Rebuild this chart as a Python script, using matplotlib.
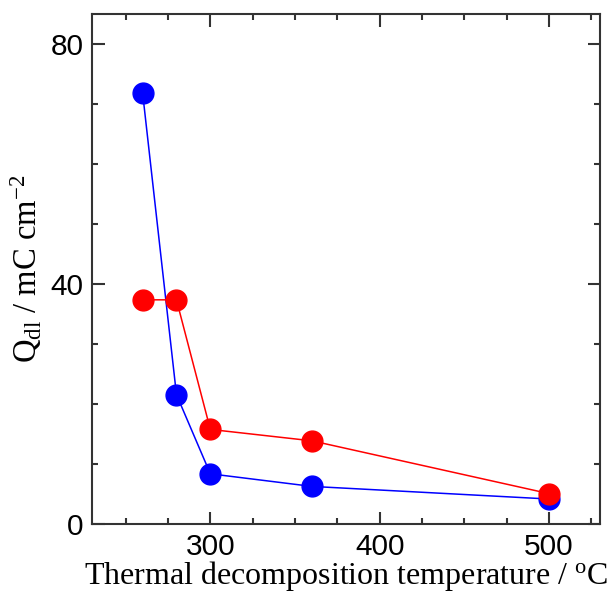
import matplotlib
matplotlib.use("Agg")
import matplotlib.pyplot as plt
from matplotlib.ticker import MultipleLocator

# data
temps = [260, 280, 300, 360, 500]
q_blue = [71.9, 21.6, 8.4, 6.3, 4.2]
q_red = [37.4, 37.4, 15.8, 13.9, 5.1]

plt.rcParams['mathtext.fontset'] = 'custom'
plt.rcParams['mathtext.rm'] = 'Liberation Serif'
plt.rcParams['mathtext.it'] = 'Liberation Serif:italic'

fig = plt.figure(figsize=(6.12, 5.93), dpi=100)
ax = fig.add_axes([0.150, 0.116, 0.830, 0.860])

ax.plot(temps, q_blue, '-o', color='#0000ff', lw=1.1, ms=15, zorder=3)
ax.plot(temps, q_red, '-o', color='#ff0000', lw=1.1, ms=15, zorder=4)

ax.set_xlim(230, 530)
ax.set_ylim(0, 85)
ax.xaxis.set_major_locator(MultipleLocator(100))
ax.xaxis.set_minor_locator(MultipleLocator(25))
ax.yaxis.set_major_locator(MultipleLocator(40))
ax.yaxis.set_minor_locator(MultipleLocator(10))

for s in ax.spines.values():
    s.set_color('#333333')
    s.set_linewidth(1.5)
ax.tick_params(which='both', direction='in', top=True, right=True, color='#333333', width=1.5)
ax.tick_params(which='major', length=9, labelsize=21.5, pad=6)
ax.tick_params(which='minor', length=4.5)
for lab in ax.get_xticklabels() + ax.get_yticklabels():
    lab.set_family('Liberation Sans')

ax.set_xlabel(r'Thermal decomposition temperature / $^{\rm o}$C',
              family='Liberation Serif', fontsize=23, labelpad=-1)
ax.set_ylabel(r'Q$_{\rm dl}$ / mC cm$^{-2}$',
              family='Liberation Serif', fontsize=23.5, labelpad=5)

fig.savefig('out.png', dpi=100)
